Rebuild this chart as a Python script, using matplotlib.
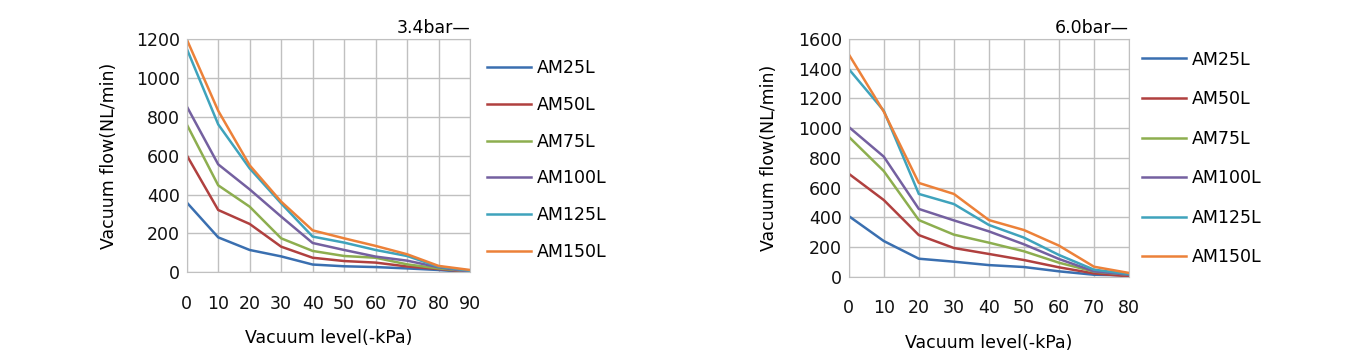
import numpy as np
import matplotlib.pyplot as plt

# data
models = ['AM25L', 'AM50L', 'AM75L', 'AM100L', 'AM125L', 'AM150L']
colors = ['#3A6FB0', '#B0403F', '#8DAE4F', '#7460A0', '#3FA3BC', '#EC8139']

level_34 = [0, 10, 20, 30, 40, 50, 60, 70, 80, 90]
flow_34_am25 = [360, 180, 115, 82, 40, 31, 27, 20, 12, 0]
flow_34_am50 = [603, 321, 249, 132, 75, 58, 50, 30, 17, 3]
flow_34_am75 = [762, 448, 338, 175, 110, 84, 75, 41, 20, 5]
flow_34_am100 = [855, 556, 427, 287, 151, 115, 81, 60, 26, 3]
flow_34_am125 = [1152, 762, 535, 355, 184, 153, 115, 84, 29, 8]
flow_34_am150 = [1200, 832, 551, 364, 216, 175, 136, 93, 33, 12]

level_60 = [0, 10, 20, 30, 40, 50, 60, 70, 80]
flow_60_am25 = [408, 240, 121, 101, 78, 65, 36, 13, 9]
flow_60_am50 = [693, 516, 280, 193, 153, 112, 63, 22, 2]
flow_60_am75 = [942, 711, 381, 283, 229, 171, 94, 34, 13]
flow_60_am100 = [1008, 808, 456, 379, 305, 218, 119, 36, 13]
flow_60_am125 = [1398, 1117, 557, 489, 348, 263, 146, 47, 18]
flow_60_am150 = [1497, 1111, 631, 557, 381, 314, 209, 67, 25]

flows_34 = [flow_34_am25, flow_34_am50, flow_34_am75, flow_34_am100, flow_34_am125, flow_34_am150]
flows_60 = [flow_60_am25, flow_60_am50, flow_60_am75, flow_60_am100, flow_60_am125, flow_60_am150]

plt.rcParams['font.family'] = 'DejaVu Sans'
fs = 12.5

fig = plt.figure(figsize=(13.53, 3.56), dpi=100)


def draw(rect, x, flows, ymax, ystep, title, leg_anchor, leg_space, ypad):
    ax = fig.add_axes(rect)
    for f, c, m in zip(flows, colors, models):
        ax.plot(x, f, color=c, lw=1.8, label=m)
    ax.set_xlim(0, x[-1])
    ax.set_ylim(0, ymax)
    ax.set_xticks(x)
    ax.set_yticks(np.arange(0, ymax + 1, ystep))
    ax.grid(True, color='#C0C0C0', lw=1)
    ax.set_axisbelow(True)
    for s in ax.spines.values():
        s.set_color('#C0C0C0')
    ax.tick_params(length=0, labelsize=fs, colors='#111111')
    ax.tick_params(axis='x', pad=16)
    ax.tick_params(axis='y', pad=5)
    ax.set_xlabel('Vacuum level(-kPa)', fontsize=fs, labelpad=12)
    ax.set_ylabel('Vacuum flow(NL/min)', fontsize=fs, labelpad=ypad)
    ax.text(1.0, 1.01, title, transform=ax.transAxes, ha='right', va='bottom', fontsize=fs)
    ax.legend(loc='upper left', bbox_to_anchor=leg_anchor, bbox_transform=fig.transFigure,
              frameon=False, fontsize=fs, handlelength=2.53, handletextpad=0.35,
              labelspacing=leg_space, borderpad=0, borderaxespad=0)
    return ax


draw([0.138, 0.2351, 0.2094, 0.6545], level_34, flows_34, 1200, 200, '3.4bar—',
     (0.360, 0.833), 1.075, 13)
draw([0.6273, 0.2228, 0.2072, 0.6677], level_60, flows_60, 1600, 200, '6.0bar—',
     (0.844, 0.858), 1.24, 14)

plt.savefig('out.png', dpi=100)
